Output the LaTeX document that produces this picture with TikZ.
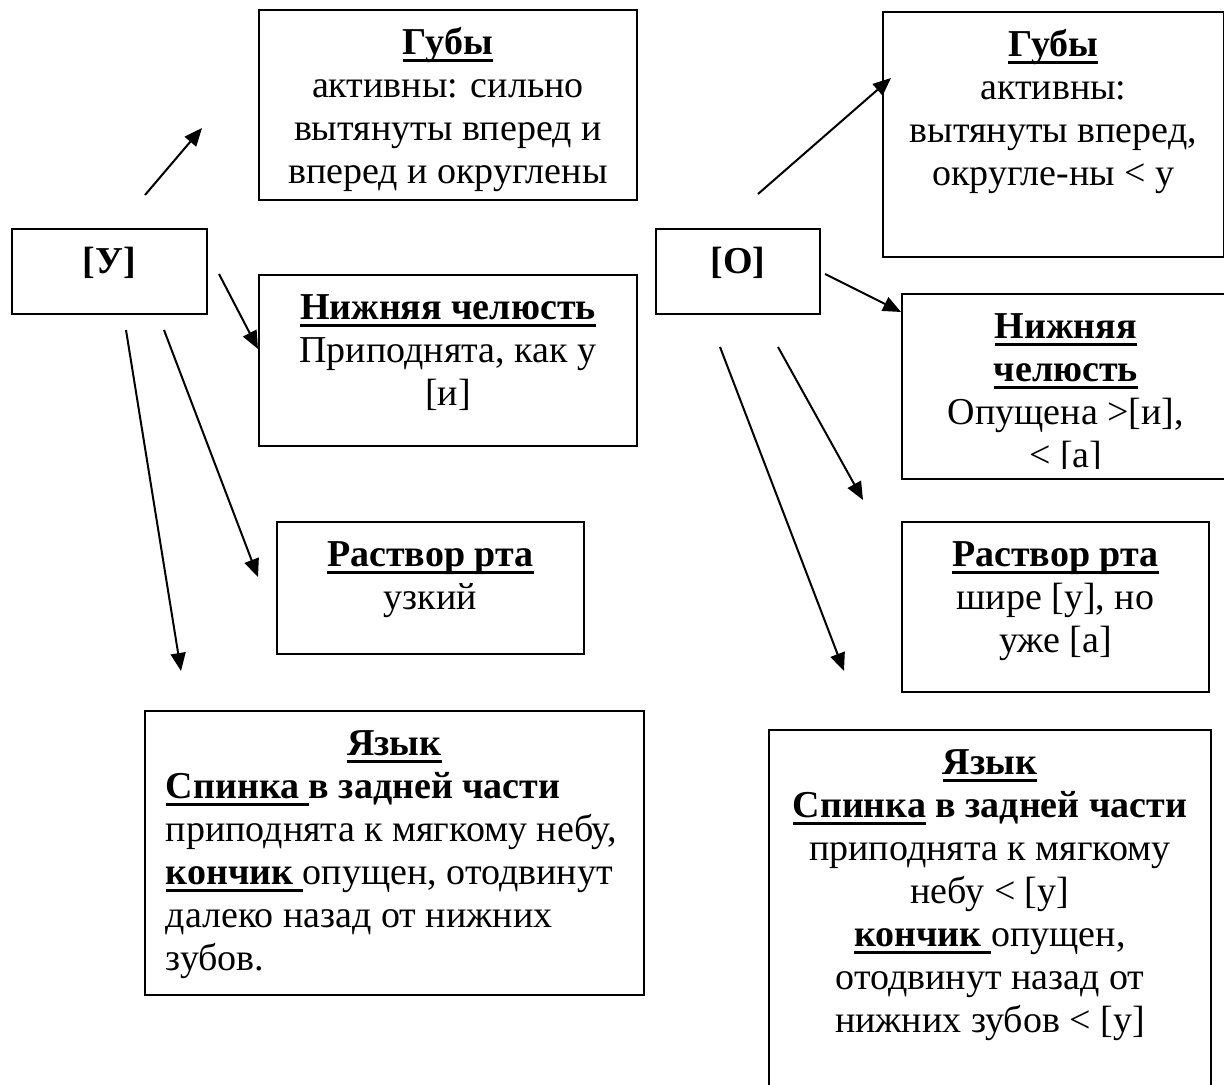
\documentclass[tikz,border=0pt]{standalone}
\usepackage{fontspec}
\setmainfont{Liberation Serif}
\usetikzlibrary{arrows.meta}

% underline drawn as a thick rule just below the baseline
\newcommand{\undl}[1]{\leavevmode\setbox0=\hbox{#1}\rlap{\rule[-3.6pt]{\wd0}{1.4pt}}\box0\relax}
% text of a box, set from its top edge
\newcommand{\boxtext}[3]{\parbox[t][#2][t]{#1}{\fontsize{19}{21.5}\selectfont\centering\rule{0pt}{22.5pt}#3}}

\tikzset{
  infobox/.style={draw, line width=0.9pt, inner sep=0pt, anchor=north west},
  pointer/.style={-{Triangle[length=9pt,width=7.5pt]}, line width=1pt}
}

\begin{document}
\begin{tikzpicture}[x=0.5pt, y=-0.5pt]
    \useasboundingbox (0,0) rectangle (1224,1085);

    % [У]
    \node[infobox] (u) at (11,228) {\boxtext{97.5pt}{42.5pt}{\textbf{[У]}}};
    \node[infobox] (gu) at (258,9) {\boxtext{189pt}{95pt}{\undl{\textbf{Губы}}\\ активны: сильно\\ вытянуты вперед и\\ вперед и округлены}};
    \node[infobox] (chu) at (258,274) {\boxtext{189pt}{85.5pt}{\undl{\textbf{Нижняя челюсть}}\\ Приподнята, как у\\ {[и]}}};
    \node[infobox] (ru) at (276,521) {\boxtext{153.5pt}{66pt}{\undl{\textbf{Раствор рта}}\\ узкий}};
    \node[infobox] (yu) at (144,710) {\boxtext{249.5pt}{142pt}{\undl{\textbf{Язык}}\par
        \raggedright\leftskip=10.5pt\relax
        \undl{\textbf{Спинка }}\textbf{в задней части}\\ приподнята к мягкому небу,\\ \undl{\textbf{кончик }}опущен, отодвинут\\ далеко назад от нижних\\ зубов.}};

    % [О]
    \node[infobox] (o) at (655,228) {\boxtext{82pt}{42.5pt}{\textbf{[О]}}};
    \node[infobox] (go) at (882,11) {\boxtext{170.5pt}{122.5pt}{\undl{\textbf{Губы}}\\ активны:\\ вытянуты вперед,\\ округле-ны < у}};
    \node[infobox] (cho) at (901,293) {\boxtext{164pt}{92.5pt}{\undl{\textbf{Нижняя}}\\ \undl{\textbf{челюсть}}\\ Опущена >[и],\\ < [а]}};
    \fill[white] ([xshift=0.8pt,yshift=0.8pt]cho.south west) rectangle ([yshift=5.5pt]cho.south east);
    \node[infobox] (ro) at (901,521) {\boxtext{153.5pt}{85pt}{\undl{\textbf{Раствор рта}}\\ шире [у], но\\ уже [а]}};
    \node[infobox] (yo) at (768,729) {\boxtext{221pt}{200pt}{\undl{\textbf{Язык}}\\ \undl{\textbf{Спинка}} \textbf{в задней части}\\ приподнята к мягкому\\ небу < [у]\\ \undl{\textbf{кончик }}опущен,\\ отодвинут назад от\\ нижних зубов < [у]}};

    % arrow ends
    \coordinate (u-gu) at (145,195);  \coordinate (gu-u) at (202,128);
    \coordinate (u-chu) at (219,274); \coordinate (chu-u) at (258,349);
    \coordinate (u-ru) at (164,330);  \coordinate (ru-u) at (258,577);
    \coordinate (u-yu) at (126,330);  \coordinate (yu-u) at (181,671);
    \coordinate (o-go) at (758,194);  \coordinate (go-o) at (891,78);
    \coordinate (o-cho) at (825,274); \coordinate (cho-o) at (901,312);
    \coordinate (o-ro) at (778,347);  \coordinate (ro-o) at (863,500);
    \coordinate (o-yo) at (720,347);  \coordinate (yo-o) at (844,671);

    \draw[pointer] (u-gu) -- (gu-u);
    \draw[pointer] (u-chu) -- (chu-u);
    \draw[pointer] (u-ru) -- (ru-u);
    \draw[pointer] (u-yu) -- (yu-u);
    \draw[pointer] (o-go) -- (go-o);
    \draw[pointer] (o-cho) -- (cho-o);
    \draw[pointer] (o-ro) -- (ro-o);
    \draw[pointer] (o-yo) -- (yo-o);
\end{tikzpicture}
\end{document}
